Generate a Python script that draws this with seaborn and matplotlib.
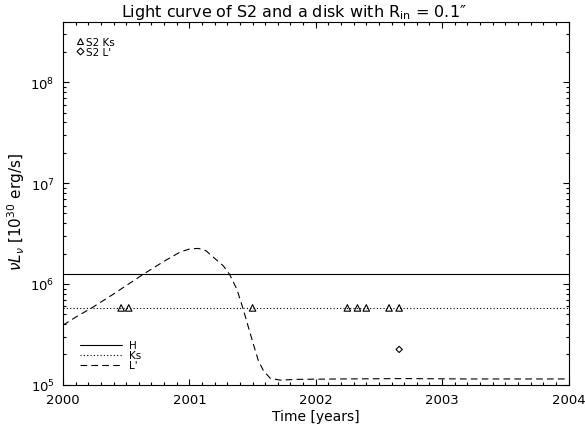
import numpy as np
import pandas as pd
import seaborn as sns
import matplotlib
matplotlib.use("Agg")
import matplotlib.pyplot as plt
from matplotlib.ticker import MultipleLocator, LogLocator, FormatStrFormatter, NullFormatter
from matplotlib.lines import Line2D

# Model light curves (nu L_nu in units of 1e30 erg/s)
h_level = 1.25e6
ks_level = 5.78e5
model_span = [2000.0, 2004.0]

lp_years = [2000.0, 2000.1, 2000.227, 2000.4, 2000.636, 2000.8, 2000.926, 2001.005,
            2001.071, 2001.13, 2001.19, 2001.269, 2001.317, 2001.375, 2001.423,
            2001.467, 2001.507, 2001.546, 2001.586, 2001.639, 2001.718, 2001.85,
            2002.2, 2002.7, 2003.2, 2004.0]
lp_flux = [3.89e5, 4.68e5, 5.78e5, 7.94e5, 1.25e6, 1.68e6, 2.07e6, 2.23e6,
           2.25e6, 2.14e6, 1.84e6, 1.51e6, 1.25e6, 8.91e5, 5.78e5,
           3.72e5, 2.51e5, 1.73e5, 1.38e5, 1.16e5, 1.11e5, 1.13e5,
           1.14e5, 1.15e5, 1.14e5, 1.14e5]

# S2 photometry
ks_obs_years = [2000.46, 2000.52, 2001.50, 2002.25, 2002.33, 2002.40, 2002.58, 2002.66]
ks_obs_flux = [5.78e5] * 8
lp_obs_years = [2002.66]
lp_obs_flux = [2.24e5]

sns.set_theme(style="ticks")
plt.rcParams["font.family"] = ["DejaVu Sans"]
plt.rcParams["mathtext.fontset"] = "dejavusans"
for key in ("text.color", "axes.labelcolor", "xtick.color", "ytick.color", "axes.edgecolor"):
    plt.rcParams[key] = "black"

fig = plt.figure(figsize=(5.85, 4.31), dpi=100)
ax = fig.add_axes([0.1077, 0.1051, 0.9718 - 0.1077, 0.9473 - 0.1051])

lw = 0.8
dotted = (0, (1, 2))
dashed = (0, (6, 3.8))
h_df = pd.DataFrame({"t": model_span, "f": [h_level, h_level]})
ks_df = pd.DataFrame({"t": model_span, "f": [ks_level, ks_level]})
lp_df = pd.DataFrame({"t": lp_years, "f": lp_flux})

sns.lineplot(data=h_df, x="t", y="f", ax=ax, color="black", lw=lw, linestyle="-")
sns.lineplot(data=ks_df, x="t", y="f", ax=ax, color="black", lw=lw, linestyle=dotted)
sns.lineplot(data=lp_df, x="t", y="f", ax=ax, color="black", lw=lw, linestyle=dashed,
             sort=False)

sns.scatterplot(x=ks_obs_years, y=ks_obs_flux, ax=ax, marker="^", s=22,
                facecolor="none", edgecolor="black", linewidth=0.8)
sns.scatterplot(x=lp_obs_years, y=lp_obs_flux, ax=ax, marker="D", s=10,
                facecolor="none", edgecolor="black", linewidth=0.8)

ax.set_yscale("log")
ax.set_xlim(2000, 2004)
ax.set_ylim(1e5, 4e8)

ax.xaxis.set_major_locator(MultipleLocator(1))
ax.xaxis.set_minor_locator(MultipleLocator(0.1))
ax.xaxis.set_major_formatter(FormatStrFormatter("%d"))
ax.yaxis.set_major_locator(LogLocator(base=10))
ax.yaxis.set_minor_locator(LogLocator(base=10, subs=np.arange(2, 10)))
ax.yaxis.set_minor_formatter(NullFormatter())

ax.tick_params(which="both", direction="in", top=True, right=True, width=0.8,
               color="black", labelcolor="black")
ax.tick_params(which="major", length=4.5, labelsize=9.5, pad=6)
ax.tick_params(which="minor", length=2.5)
for sp in ax.spines.values():
    sp.set_linewidth(0.8)
    sp.set_color("black")

ax.set_xlabel("Time [years]", fontsize=10, labelpad=2)
ax.set_ylabel(r"$\nu L_\nu$ [10$^{30}$ erg/s]", fontsize=11)
ax.yaxis.set_label_coords(-0.071, 0.478)
ax.set_title("Light curve of S2 and a disk with R$_{\\rm in}$ = 0.1\u2033", fontsize=11.5,
             pad=4, x=0.457)

obs_handles = [
    Line2D([], [], marker="^", ls="", mfc="none", mec="black", ms=5, mew=0.8),
    Line2D([], [], marker="D", ls="", mfc="none", mec="black", ms=3.5, mew=0.8),
]
leg1 = ax.legend(obs_handles, ["S2 Ks", "S2 L'"], loc="upper left", frameon=False,
                 fontsize=7.5, handlelength=0.8, handletextpad=0.2, labelspacing=0.0,
                 bbox_to_anchor=(0.021, 0.965), borderaxespad=0.0, borderpad=0.2)
ax.add_artist(leg1)

model_handles = [
    Line2D([], [], color="black", lw=lw, ls="-"),
    Line2D([], [], color="black", lw=lw, ls=dotted),
    Line2D([], [], color="black", lw=lw, ls=dashed),
]
ax.legend(model_handles, ["H", "Ks", "L'"], loc="lower left", frameon=False,
          fontsize=7.5, handlelength=4.0, handletextpad=0.7, labelspacing=0.0,
          bbox_to_anchor=(0.02, 0.02), borderpad=0.2)

fig.savefig("out.png", dpi=100)
